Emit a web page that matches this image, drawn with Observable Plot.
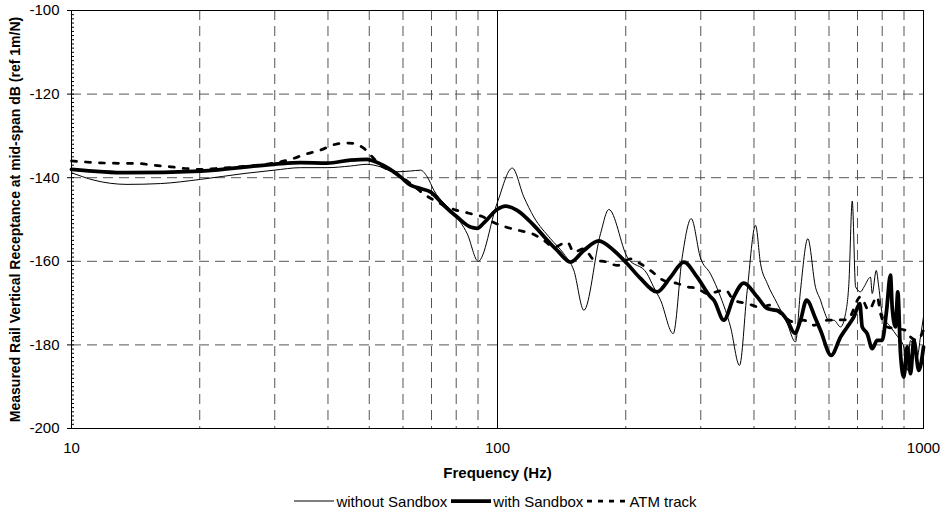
<!DOCTYPE html>
<html>
<head>
<meta charset="utf-8">
<script src="https://cdn.jsdelivr.net/npm/d3@7"></script>
<script src="https://cdn.jsdelivr.net/npm/@observablehq/plot@0.6"></script>
<style>
  body { margin: 0; background: #fff; font-family: "Liberation Sans", Arial, sans-serif; }
  #legend { display: flex; justify-content: center; align-items: center; width: 941px; padding-left: 50px; box-sizing: border-box; font-size: 15px; height: 22px; color: #000; }
  .item { display: flex; align-items: center; margin: 0 2px; }
  .item svg { margin-right: 2px; }
</style>
</head>
<body>
<div id="chart"></div>
<div id="legend"></div>
<script>
// ---- data (frequency in Hz, receptance in dB) ----
const freqWithout = [10, 11.3, 13.5, 16.2, 20.1, 25.4, 29.9, 34.5, 39.8, 45.2, 49.4, 53.1, 57.1, 62.5, 66, 68.4, 70.9, 79, 84.9, 90.1, 99.8, 108.3, 115.3, 121.7, 133.2, 143.1, 151.1, 159.5, 174.5, 182.5, 201.6, 224.6, 232.4, 241.4, 258.5, 271.4, 284.9, 299.6, 316.2, 333.9, 352.4, 369.9, 385.7, 403.4, 414.5, 429.8, 453.6, 478.7, 500.6, 514.4, 535.1, 557.8, 573.1, 583.4, 599.3, 616, 638.7, 656.2, 668.1, 680.4, 692.8, 711.7, 724.3, 750.9, 757.9, 774.5, 785.4, 800, 836.5, 869, 899, 915.6, 932.3, 966.6, 984, 1000];
const dbWithout = [-138.8, -140.6, -141.6, -141.4, -140.4, -139.0, -138.2, -137.6, -137.6, -137.2, -136.8, -137.4, -138.6, -138.4, -138.2, -139.8, -143.0, -148.6, -153.4, -160.0, -146.1, -137.7, -144.6, -149.4, -154.6, -158.2, -162.2, -171.7, -153.4, -147.6, -159.0, -163.0, -166.1, -169.3, -177.3, -159.0, -149.8, -159.2, -163.0, -168.5, -175.7, -184.9, -166.9, -151.4, -160.6, -165.3, -170.1, -174.9, -179.3, -166.9, -154.6, -166.2, -169.3, -171.7, -174.1, -174.1, -175.7, -172.5, -165.3, -145.6, -166.1, -167.3, -166.2, -163.8, -167.7, -162.2, -166.2, -172.5, -175.7, -178.0, -180.5, -186.1, -178.9, -182.9, -178.0, -173.3];

const freqWith = [10, 13.5, 20.1, 29.9, 34.5, 39.8, 45.2, 49.4, 51.7, 57.1, 59.2, 62.5, 66, 69.6, 74.8, 80.4, 86.4, 89.6, 92.9, 99.8, 104.4, 111.2, 121.7, 133.2, 138.1, 148.4, 159.5, 172.9, 187.5, 201.6, 216.6, 237.1, 254.7, 273.8, 294.3, 316.2, 322, 339.8, 358.7, 378.6, 407, 429.8, 457.5, 478.7, 498.7, 514.4, 531.4, 557.8, 573.1, 607.1, 638.7, 662.3, 686.4, 708.8, 718, 737.6, 757.9, 778.6, 800, 818.6, 836.5, 844.3, 859.6, 870.4, 883.1, 899, 915.6, 932.3, 949.1, 975, 1000];
const dbWith = [-138.0, -138.8, -138.4, -136.8, -136.4, -136.5, -135.8, -135.6, -136.2, -138.6, -139.8, -141.8, -142.6, -143.4, -146.6, -149.4, -151.8, -152.1, -150.8, -147.6, -146.8, -147.8, -151.4, -155.8, -157.4, -160.2, -157.4, -155.1, -157.4, -160.6, -164.1, -167.3, -163.8, -160.2, -163.8, -168.5, -169.3, -174.1, -168.5, -165.2, -168.5, -171.3, -171.9, -174.1, -177.2, -174.1, -169.3, -173.7, -176.5, -182.5, -178.1, -175.7, -173.3, -170.1, -175.7, -177.3, -180.9, -178.9, -178.9, -172.0, -163.3, -171.0, -175.7, -167.3, -182.1, -187.7, -180.5, -186.9, -178.9, -186.1, -180.5];

const freqAtm = [10, 12.1, 14.3, 15.6, 17.1, 18.5, 20.1, 21.8, 25.4, 29.9, 32.7, 35.4, 38.4, 41.7, 44.8, 48.6, 50.8, 53.1, 57.1, 62.5, 67.8, 72.2, 79, 85.6, 92.1, 98.9, 105.4, 113.2, 120.6, 128.5, 135.6, 145.8, 151.1, 159.5, 168.3, 180.9, 191, 205.2, 216.6, 228.7, 245.7, 264.1, 278.8, 294.3, 310.7, 343, 358.7, 385.7, 414.5, 437.4, 461.6, 496.1, 523.6, 552.6, 594, 662.3, 711.7, 744, 778.6, 792.7, 821.7, 907.2, 932.3, 966.6, 1000];
const dbAtm = [-136.0, -136.5, -136.6, -137.0, -137.4, -137.8, -138.0, -137.8, -137.3, -136.5, -135.6, -134.4, -133.4, -132.0, -131.7, -133.0, -135.0, -137.0, -138.6, -141.4, -144.2, -145.8, -147.6, -148.5, -149.3, -150.9, -151.9, -152.7, -153.4, -155.0, -156.6, -155.4, -157.8, -157.0, -159.6, -160.2, -161.0, -159.4, -160.6, -162.2, -164.6, -165.3, -166.1, -166.5, -167.7, -166.9, -169.3, -170.1, -171.0, -170.5, -172.5, -174.5, -174.1, -175.3, -174.1, -174.0, -168.5, -171.7, -168.5, -172.5, -175.7, -176.5, -178.1, -178.9, -176.5];

const seriesNames = ["without Sandbox", "with Sandbox", "ATM track"];

// ---- axes / grid ----
const xTickLabels = [10, 100, 1000];
const yTickLabels = [-200, -180, -160, -140, -120, -100];
const gridFreqs = [20, 30, 40, 50, 60, 70, 80, 90, 200, 300, 400, 500, 600, 700, 800, 900];
const solidFreqs = [100];
const gridDb = [-180, -160, -140, -120];
const minorDb = d3.range(-200, -99, 1);
const xTitle = "Frequency (Hz)";
const yTitle = "Measured Rail Vertical Receptance at mid-span dB (ref 1m/N)";

const toRows = (fs, ds) => fs.map((f, i) => ({f, db: ds[i]}));
const without = toRows(freqWithout, dbWithout);
const withSb = toRows(freqWith, dbWith);
const atm = toRows(freqAtm, dbAtm);

const chart = Plot.plot({
  width: 941,
  height: 490,
  marginLeft: 71,
  marginRight: 18,
  marginTop: 10,
  marginBottom: 62,
  style: {fontFamily: '"Liberation Sans", Arial, sans-serif', fontSize: "15px", color: "black", background: "white"},
  x: {type: "log", domain: [10, 1000]},
  y: {domain: [-200, -100]},
  marks: [
    Plot.ruleX(gridFreqs, {stroke: "#555", strokeWidth: 1, strokeDasharray: "10,6"}),
    Plot.ruleY(gridDb, {stroke: "#555", strokeWidth: 1, strokeDasharray: "10,6"}),
    Plot.ruleX(solidFreqs, {stroke: "black", strokeWidth: 1}),
    Plot.axisX({ticks: xTickLabels, tickFormat: d => String(d), tickSize: 0, tickPadding: 14, label: null, fontSize: 15}),
    Plot.axisY({ticks: yTickLabels, tickFormat: d => String(d), tickSize: 4, tickPadding: 8, label: null, fontSize: 15}),
    Plot.axisY({ticks: minorDb, tickFormat: () => "", tickSize: 3, dx: 3, label: null}),
    Plot.line(without, {x: "f", y: "db", stroke: "black", strokeWidth: 1, curve: "monotone-x"}),
    Plot.line(atm, {x: "f", y: "db", stroke: "black", strokeWidth: 2.75, strokeDasharray: "5,9", curve: "monotone-x"}),
    Plot.line(withSb, {x: "f", y: "db", stroke: "black", strokeWidth: 3.75, curve: "monotone-x"}),
    Plot.frame({stroke: "black"}),
    Plot.text([yTitle], {text: d => d, frameAnchor: "left", textAnchor: "middle", lineAnchor: "middle", dx: -56, rotate: -90, fontWeight: "bold", fontSize: 14}),
    Plot.text([xTitle], {text: d => d, frameAnchor: "bottom", textAnchor: "middle", lineAnchor: "middle", dy: 45, fontWeight: "bold", fontSize: 15})
  ]
});
document.getElementById("chart").append(chart);

// ---- legend ----
const styles = [
  {w: 1, dash: null},
  {w: 3.75, dash: null},
  {w: 2.75, dash: "5,6"}
];
const legend = document.getElementById("legend");
seriesNames.forEach((name, i) => {
  const s = styles[i];
  const item = document.createElement("div");
  item.className = "item";
  item.innerHTML = `<svg width="40" height="10"><line x1="0" y1="5" x2="40" y2="5" stroke="black" stroke-width="${s.w}" ${s.dash ? `stroke-dasharray="${s.dash}"` : ""}/></svg><span>${name}</span>`;
  legend.append(item);
});
</script>
</body>
</html>
